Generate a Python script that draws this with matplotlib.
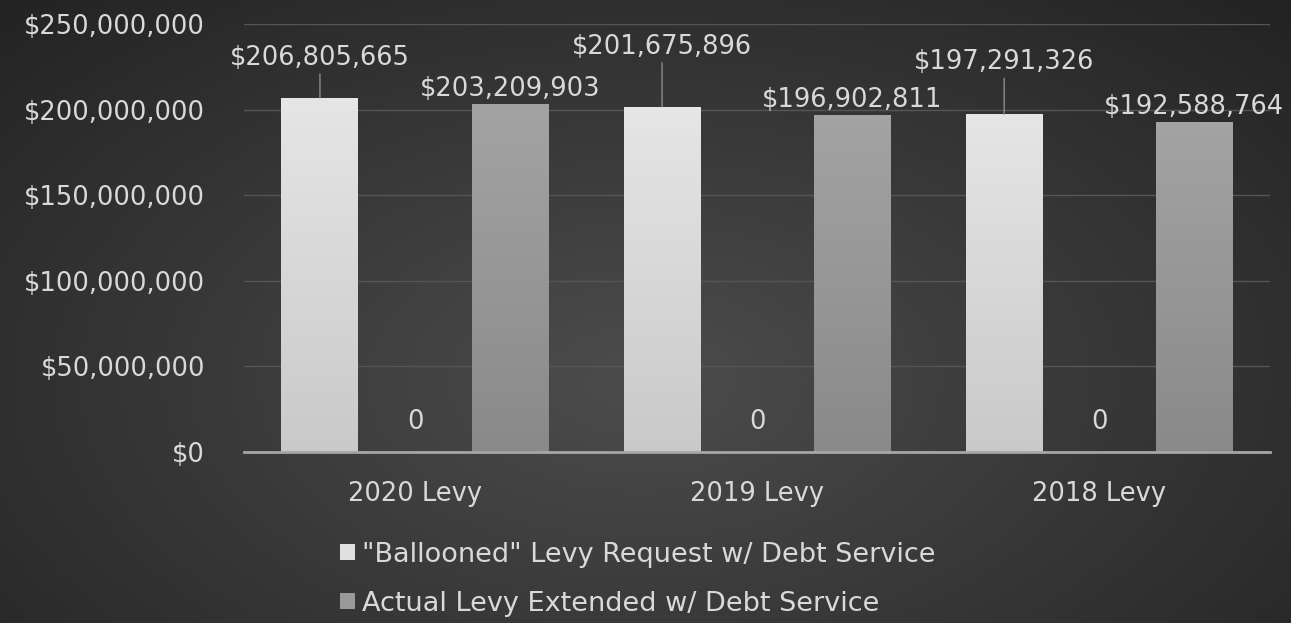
import numpy as np
import matplotlib.pyplot as plt
from matplotlib.patches import Patch
from matplotlib.ticker import FuncFormatter

plt.rcParams['font.family'] = ['DejaVu Sans']

# levy data
categories = ['2020 Levy', '2019 Levy', '2018 Levy']
requested = [206805665, 201675896, 197291326]
placeholder = [0, 0, 0]
extended = [203209903, 196902811, 192588764]
legend_labels = ['"Ballooned" Levy Request w/ Debt Service',
                 'Actual Levy Extended w/ Debt Service']

txt = '#d9d9d9'
fs = 18.5

fig = plt.figure(figsize=(12.91, 6.23), dpi=100)

# dark radial background
bg = fig.add_axes([0, 0, 1, 1], zorder=-10)
yy, xx = np.mgrid[0:623, 0:1291]
r = np.sqrt(((xx - 640) / 900.0) ** 2 + ((yy - 380) / 520.0) ** 2)
shade = np.clip(0.30 - 0.16 * r, 0.14, 0.30)
bg.imshow(np.dstack([shade] * 3), aspect='auto', extent=[0, 1, 0, 1])
bg.axis('off')

ax = fig.add_axes([0.189, 0.2745, 0.795, 0.687])
ax.patch.set_alpha(0)

x = np.arange(len(categories))
w = 0.225
step = 0.278

def grad_bars(xs, vals, top, bot):
    bars = ax.bar(xs, vals, w, color='none', zorder=3)
    g = np.linspace(0, 1, 64).reshape(-1, 1)
    top = np.array(top); bot = np.array(bot)
    img = bot + (top - bot) * g[:, :, None]
    for b in bars:
        if b.get_height() <= 0:
            continue
        im = ax.imshow(img, aspect='auto', origin='lower', zorder=3,
                       extent=[b.get_x(), b.get_x() + w, 0, b.get_height()])
        im.set_clip_path(b)
    return bars

b1 = grad_bars(x - step, requested, [0.90, 0.90, 0.90], [0.79, 0.79, 0.79])
b0 = ax.bar(x, placeholder, w, color='none', zorder=3)
b2 = grad_bars(x + step, extended, [0.64, 0.64, 0.64], [0.54, 0.54, 0.54])

ax.set_xlim(-0.5, 2.5)
ax.set_ylim(0, 250000000)
ax.set_yticks(np.arange(0, 250000001, 50000000))
ax.yaxis.set_major_formatter(FuncFormatter(lambda v, p: '${:,.0f}'.format(v)))
ax.set_xticks(x)
ax.set_xticklabels(categories)
ax.tick_params(colors=txt, labelsize=fs, length=0)
ax.tick_params(axis='y', pad=28)
ax.tick_params(axis='x', pad=21)
ax.grid(axis='y', color='#555555', lw=1, zorder=0)
for s in ['top', 'right', 'left']:
    ax.spines[s].set_visible(False)
ax.spines['bottom'].set_color('#a6a6a6')
ax.spines['bottom'].set_linewidth(2)
ax.spines['bottom'].set_zorder(4)

# callout labels for requested bars (offset in pixels above bar top)
req_off = [40, 60, 52]
for b, v, off in zip(b1, requested, req_off):
    cx = b.get_x() + w / 2
    ax.annotate('${:,}'.format(v), (cx, v), xytext=(0, off),
                textcoords='offset pixels', ha='center', va='center',
                color=txt, fontsize=fs, zorder=5)
    ax.annotate('', (cx, v), xytext=(0, off - 16), textcoords='offset pixels',
                arrowprops=dict(arrowstyle='-', color='#8c8c8c', lw=1,
                                shrinkA=0, shrinkB=0))

for b, v in zip(b2, extended):
    ax.annotate('${:,}'.format(v), (b.get_x() + w / 2, v), xytext=(0, 2),
                textcoords='offset pixels', ha='center', va='bottom',
                color=txt, fontsize=fs, zorder=5)

for b, v in zip(b0, placeholder):
    ax.annotate('{:,}'.format(v), (b.get_x() + w / 2, v), xytext=(0, 30),
                textcoords='offset pixels', ha='center', va='center',
                color=txt, fontsize=fs, zorder=5)

handles = [Patch(facecolor='#e0e0e0', edgecolor='none'),
           Patch(facecolor='#9a9a9a', edgecolor='none')]
leg = fig.legend(handles, legend_labels, loc='upper left',
                 bbox_to_anchor=(0.255, 0.148), frameon=False, fontsize=19.5,
                 labelcolor=txt, handlelength=0.55, handleheight=0.55,
                 handletextpad=0.25, labelspacing=0.85, borderaxespad=0)

fig.savefig('out.png', dpi=100)
